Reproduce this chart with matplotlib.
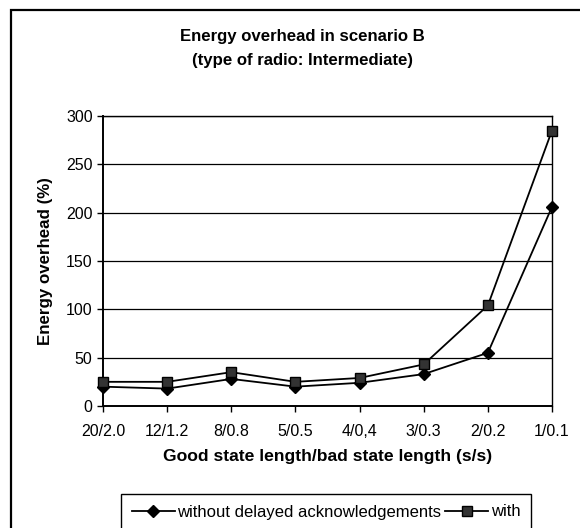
import matplotlib
matplotlib.use("Agg")
import matplotlib.pyplot as plt
from matplotlib.patches import Rectangle
from matplotlib.lines import Line2D

plt.rcParams['font.family'] = ['Liberation Sans', 'DejaVu Sans']

categories = ["20/2.0", "12/1.2", "8/0.8", "5/0.5", "4/0,4", "3/0.3", "2/0.2", "1/0.1"]
without_delayed = [20, 18, 28, 20, 24, 33, 55, 206]
with_delayed = [25, 25, 35, 25, 29, 43, 104, 285]
yticks = [0, 50, 100, 150, 200, 250, 300]

W, H = 580, 528
fig = plt.figure(figsize=(W / 100, H / 100), dpi=100)

# outer frame
fig.patches.append(Rectangle((11 / W, -0.1), 1.2, 1 - 10 / H + 0.1, transform=fig.transFigure,
                             fill=False, edgecolor='black', linewidth=1.6))

ax = fig.add_axes([103 / W, 1 - 406 / H, (552 - 103) / W, (406 - 116) / H])
x = list(range(len(categories)))
ax.plot(x, without_delayed, color='black', linewidth=1.3, marker='D', markersize=6,
        markerfacecolor='black', markeredgecolor='black', clip_on=False, zorder=3)
ax.plot(x, with_delayed, color='black', linewidth=1.3, marker='s', markersize=6.5,
        markerfacecolor='#333333', markeredgecolor='black', clip_on=False, zorder=3)

ax.set_xlim(0, len(categories) - 1)
ax.set_ylim(0, 300)
ax.set_yticks(yticks)
ax.set_xticks(x)
ax.set_xticklabels(categories)
ax.tick_params(axis='both', direction='out', length=4, width=1, labelsize=11.5, colors='black')
ax.tick_params(axis='x', pad=9)
ax.yaxis.grid(True, color='black', linewidth=0.9)
ax.set_axisbelow(True)
for s in ax.spines.values():
    s.set_color('black')
    s.set_linewidth(1.0)
ax.spines['left'].set_linewidth(1.4)
ax.spines['bottom'].set_linewidth(1.4)

ax.set_xlabel("Good state length/bad state length (s/s)", fontsize=12.6, fontweight='bold', labelpad=7)
ax.set_ylabel("Energy overhead (%)", fontsize=12.2, fontweight='bold', labelpad=9)

fig.text(302 / W, 1 - 37 / H, "Energy overhead in scenario B",
         ha='center', va='center', fontsize=12.1, fontweight='bold')
fig.text(302 / W, 1 - 60 / H, "(type of radio: Intermediate)",
         ha='center', va='center', fontsize=12.1, fontweight='bold')

# legend
handles = [Line2D([0], [0], color='black', linewidth=1.3, marker='D', markersize=6,
                  markerfacecolor='black'),
           Line2D([0], [0], color='black', linewidth=1.3, marker='s', markersize=6.5,
                  markerfacecolor='#333333', markeredgecolor='black')]
leg = fig.legend(handles, ["without delayed acknowledgements", "with"],
                 loc='center', bbox_to_anchor=(326 / W, 1 - 512 / H), ncol=2,
                 frameon=False, fontsize=12, handlelength=2.6, handletextpad=0.15,
                 columnspacing=0.2)
fig.patches.append(Rectangle((121 / W, -0.1), (531 - 121) / W, (528 - 494) / H + 0.1,
                             transform=fig.transFigure, fill=False, edgecolor='black',
                             linewidth=1.0))

fig.savefig("out.png", dpi=100, facecolor='white')
